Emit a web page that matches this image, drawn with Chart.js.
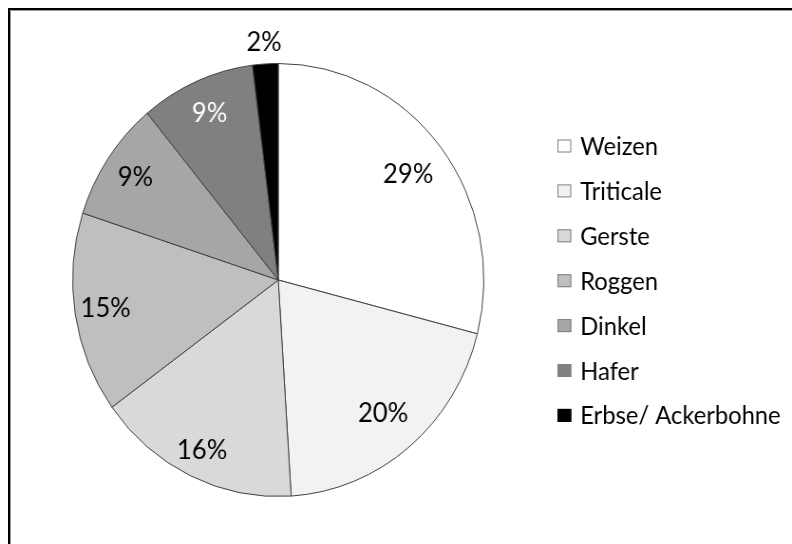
<!DOCTYPE html>
<html>
<head>
<meta charset="utf-8">
<script src="https://cdn.jsdelivr.net/npm/chart.js@4/dist/chart.umd.min.js"></script>
<style>
  html, body { margin: 0; padding: 0; background: #fff; width: 792px; height: 544px; overflow: hidden; }
  #frame { position: absolute; left: 8px; top: 8px; width: 900px; height: 600px;
           border-left: 2px solid #000; border-top: 2px solid #000; box-shadow: inset 1px 1px 0 #999; }
  #pie { position: absolute; left: 0; top: 0; }
</style>
</head>
<body>
<div id="frame"></div>
<!-- drawn 834 wide and shown at 792: the source picture is squeezed horizontally -->
<canvas id="pie" width="834" height="544" style="width:792px;height:544px"></canvas>
<script>
  const labels = ['Weizen', 'Triticale', 'Gerste', 'Roggen', 'Dinkel', 'Hafer', 'Erbse/ Ackerbohne'];
  const shares = [29, 20, 16, 15, 9, 9, 2];

  // styling
  const fills       = ['#ffffff', '#f2f2f2', '#d9d9d9', '#bfbfbf', '#a6a6a6', '#808080', '#000000'];
  const labelColors = ['#000', '#000', '#000', '#000', '#000', '#fff', '#000'];
  const labelRadius = [0.80, 0.80, 0.87, 0.85, 0.84, 0.84, 1.10];
  const FONT = 'Lato, Carlito, Calibri, sans-serif';

  // percentage labels on the slices
  const sliceLabels = {
    id: 'sliceLabels',
    afterDatasetsDraw(chart) {
      const ctx = chart.ctx;
      const meta = chart.getDatasetMeta(0);
      ctx.save();
      ctx.font = `27px ${FONT}`;
      ctx.textAlign = 'center';
      ctx.textBaseline = 'middle';
      meta.data.forEach((arc, i) => {
        const p = arc.getProps(['x', 'y', 'startAngle', 'endAngle', 'outerRadius'], true);
        const mid = (p.startAngle + p.endAngle) / 2;
        const r = p.outerRadius * labelRadius[i];
        ctx.fillStyle = labelColors[i];
        ctx.fillText(shares[i] + '%', p.x + Math.cos(mid) * r, p.y + Math.sin(mid) * r);
      });
      ctx.restore();
    }
  };

  // legend column on the right
  const sideLegend = {
    id: 'sideLegend',
    afterDraw(chart) {
      const ctx = chart.ctx;
      const x0 = 587, y0 = 146, gap = 44.9;
      ctx.save();
      ctx.font = `25px ${FONT}`;
      ctx.textBaseline = 'middle';
      chart.data.labels.forEach((lab, i) => {
        const y = y0 + i * gap;
        ctx.fillStyle = fills[i];
        ctx.fillRect(x0, y - 6.5, 14.5, 13);
        ctx.strokeStyle = i === fills.length - 1 ? '#000' : '#808080';
        ctx.lineWidth = 1;
        ctx.strokeRect(x0 + 0.5, y - 6, 13.5, 12);
        ctx.fillStyle = '#000';
        ctx.fillText(lab, x0 + 24, y + 1);
      });
      ctx.restore();
    }
  };

  new Chart(document.getElementById('pie').getContext('2d'), {
    type: 'pie',
    data: {
      labels: labels,
      datasets: [{
        data: shares,
        backgroundColor: fills,
        borderColor: '#404040',
        borderWidth: 1,
      }],
    },
    options: {
      responsive: false,
      animation: false,
      layout: { padding: { left: 76, right: 324, top: 63, bottom: 47 } },
      plugins: {
        legend: { display: false },
        tooltip: { enabled: false },
      },
    },
    plugins: [sliceLabels, sideLegend],
  });
</script>
</body>
</html>
